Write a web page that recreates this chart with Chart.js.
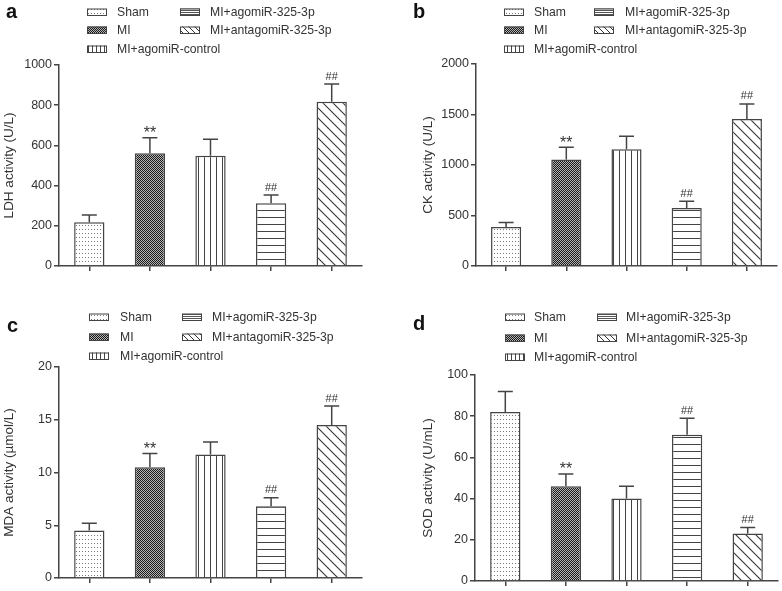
<!DOCTYPE html>
<html>
<head>
<meta charset="utf-8">
<script src="https://cdn.jsdelivr.net/npm/chart.js@4.4.1/dist/chart.umd.min.js"></script>
<style>
  html, body { margin: 0; padding: 0; background: #fff; }
  #wrap { position: relative; width: 782px; height: 591px; }
  .panel { position: absolute; }
</style>
</head>
<body>
<div id="wrap">
  <div class="panel" style="left:0;top:0;width:391px;height:290px"><canvas id="pa"></canvas></div>
  <div class="panel" style="left:391px;top:0;width:391px;height:290px"><canvas id="pb"></canvas></div>
  <div class="panel" style="left:0;top:290px;width:391px;height:301px"><canvas id="pc"></canvas></div>
  <div class="panel" style="left:391px;top:290px;width:391px;height:301px"><canvas id="pd"></canvas></div>
</div>
<script>
// groups, in plot order
const groups = ['Sham', 'MI', 'MI+agomiR-control', 'MI+agomiR-325-3p', 'MI+antagomiR-325-3p'];
const marks = ['', '**', '', '##', '##'];

// a: LDH (U/L)
const ldhMean = [218, 561, 549, 312, 817];
const ldhSd = [36, 77, 81, 41, 88];
const ldhTicks = [0, 200, 400, 600, 800, 1000];

// b: CK (U/L)
const ckMean = [385, 1055, 1155, 575, 1455];
const ckSd = [45, 120, 130, 65, 150];
const ckTicks = [0, 500, 1000, 1500, 2000];

// c: MDA (µmol/L)
const mdaMean = [4.5, 10.5, 11.7, 6.8, 14.5];
const mdaSd = [0.7, 1.3, 1.2, 0.8, 1.8];
const mdaTicks = [0, 5, 10, 15, 20];

// d: SOD (U/mL)
const sodMean = [82, 46, 40, 71, 23];
const sodSd = [10, 6, 6, 8, 3];
const sodTicks = [0, 20, 40, 60, 80, 100];

const INK = '#333';
const FONT = 'Arial, "Liberation Sans", Helvetica, sans-serif';
Chart.defaults.font.family = FONT;
Chart.defaults.color = INK;

// hatch fills, GraphPad style
function tile(w, h, paint) {
  const c = document.createElement('canvas');
  c.width = w; c.height = h;
  const x = c.getContext('2d');
  x.fillStyle = '#fff';
  x.fillRect(0, 0, w, h);
  paint(x);
  return x.createPattern(c, 'repeat');
}
const fills = [
  tile(3, 4, x => { x.fillStyle = '#777'; x.fillRect(1, 1, 1, 1); }),
  tile(2, 2, x => { x.fillStyle = '#1a1a1a'; x.fillRect(0, 0, 1, 1); x.fillRect(1, 1, 1, 1); x.fillStyle = '#b5b5b5'; x.fillRect(1, 0, 1, 1); x.fillRect(0, 1, 1, 1); }),
  tile(6, 1, x => { x.fillStyle = '#444'; x.fillRect(0, 0, 1, 1); }),
  tile(1, 7, x => { x.fillStyle = '#444'; x.fillRect(0, 0, 1, 1); }),
  tile(10, 10, x => {
    x.strokeStyle = '#333'; x.lineWidth = 1.1;
    x.beginPath(); x.moveTo(-1, -1); x.lineTo(11, 11); x.stroke();
    x.beginPath(); x.moveTo(-1, 9); x.lineTo(1, 11); x.stroke();
    x.beginPath(); x.moveTo(9, -1); x.lineTo(11, 1); x.stroke();
  }),
];
// smaller hatches for the legend swatches
const swatches = [
  fills[0],
  fills[1],
  tile(4, 1, x => { x.fillStyle = '#444'; x.fillRect(0, 0, 1, 1); }),
  tile(1, 2, x => { x.fillStyle = '#555'; x.fillRect(0, 0, 1, 1); }),
  tile(6, 6, x => {
    x.strokeStyle = '#333'; x.lineWidth = 1;
    x.beginPath(); x.moveTo(-1, -1); x.lineTo(7, 7); x.stroke();
  }),
];

// error bars (upper only) + significance marks
const errorBars = {
  id: 'errorBars',
  afterDatasetsDraw(chart, args, opts) {
    const { ctx } = chart;
    const y = chart.scales.y;
    const meta = chart.getDatasetMeta(0);
    const mean = chart.data.datasets[0].data;
    ctx.save();
    ctx.strokeStyle = '#444';
    ctx.lineWidth = 1.5;
    meta.data.forEach((bar, i) => {
      const top = y.getPixelForValue(mean[i] + opts.sd[i]);
      ctx.beginPath();
      ctx.moveTo(bar.x, bar.y);
      ctx.lineTo(bar.x, top);
      ctx.moveTo(bar.x - 7.5, top);
      ctx.lineTo(bar.x + 7.5, top);
      ctx.stroke();
      const m = opts.marks[i];
      if (m) {
        ctx.fillStyle = INK;
        ctx.textAlign = 'center';
        ctx.textBaseline = 'alphabetic';
        if (m === '**') {
          ctx.font = '16px ' + FONT;
          ctx.fillText(m, bar.x, top + 0.5);
        } else {
          ctx.font = '11px ' + FONT;
          ctx.fillText(m, bar.x, top - 4.5);
        }
      }
    });
    ctx.restore();
  },
};

// two-column legend + panel letter
const panelLegend = {
  id: 'panelLegend',
  afterDraw(chart, args, opts) {
    const { ctx } = chart;
    const slots = [[0, 0], [0, 1], [0, 2], [1, 0], [1, 1]];
    ctx.save();
    ctx.font = '12.2px ' + FONT;
    ctx.textBaseline = 'middle';
    ctx.textAlign = 'left';
    groups.forEach((g, i) => {
      const [col, row] = slots[i];
      const bx = opts.box[col], ty = opts.rows[row];
      ctx.fillStyle = swatches[i];
      ctx.fillRect(bx, ty - 3.5, 20, 7);
      ctx.strokeStyle = '#444';
      ctx.lineWidth = 1;
      ctx.strokeRect(bx + 0.5, ty - 3, 19, 6.5);
      ctx.fillStyle = INK;
      ctx.fillText(g, opts.text[col], ty + 0.5);
    });
    ctx.font = 'bold 20px ' + FONT;
    ctx.fillStyle = '#111';
    ctx.textBaseline = 'alphabetic';
    ctx.fillText(opts.letter, opts.lx, opts.ly);
    ctx.restore();
  },
};

function panel(id, mean, sd, ticks, title, lay, legend) {
  return new Chart(document.getElementById(id), {
    type: 'bar',
    data: {
      labels: groups,
      datasets: [{
        data: mean,
        backgroundColor: fills,
        borderColor: '#444',
        borderWidth: 1.5,
        categoryPercentage: 1,
        barPercentage: 0.5,
      }],
    },
    options: {
      responsive: true,
      maintainAspectRatio: false,
      animation: false,
      events: [],
      layout: { padding: { left: lay.left, top: lay.top, right: lay.right, bottom: 0 } },
      plugins: {
        legend: { display: false },
        tooltip: { enabled: false },
        errorBars: { sd, marks },
        panelLegend: legend,
      },
      scales: {
        x: {
          grid: { offset: false, drawOnChartArea: false, drawTicks: true, tickLength: 5, color: '#444', lineWidth: 1.5 },
          border: { display: true, color: '#444', width: 1.5 },
          ticks: { display: false },
          afterFit: s => { s.height = lay.xh; },
        },
        y: {
          min: ticks[0],
          max: ticks[ticks.length - 1],
          afterBuildTicks: s => { s.ticks = ticks.map(v => ({ value: v })); },
          grid: { drawOnChartArea: false, drawTicks: true, tickLength: 5, color: '#444', lineWidth: 1.5 },
          border: { display: true, color: '#444', width: 1.5 },
          ticks: { color: INK, padding: 2, font: { size: 12.5 }, callback: v => String(v) },
          title: { display: true, text: title, color: INK, font: { size: 13.5 }, padding: { top: 1, bottom: 0 } },
          afterFit: s => { s.width = lay.yw; },
        },
      },
    },
    plugins: [errorBars, panelLegend],
  });
}

panel('pa', ldhMean, ldhSd, ldhTicks, 'LDH activity (U/L)',
  { left: 0, top: 65, right: 29, xh: 24, yw: 59 },
  { box: [87, 180], text: [117, 210], rows: [12, 30, 49], letter: 'a', lx: 6, ly: 18 });

panel('pb', ckMean, ckSd, ckTicks, 'CK activity (U/L)',
  { left: 28, top: 64, right: 5, xh: 24, yw: 57 },
  { box: [113, 203], text: [143, 234], rows: [12, 30, 49], letter: 'b', lx: 22, ly: 18 });

panel('pc', mdaMean, mdaSd, mdaTicks, 'MDA activity (\u00b5mol/L)',
  { left: 0, top: 77, right: 29, xh: 13, yw: 59 },
  { box: [89, 182], text: [120, 212], rows: [27, 47, 66], letter: 'c', lx: 7, ly: 42 });

panel('pd', sodMean, sodSd, sodTicks, 'SOD activity (U/mL)',
  { left: 28, top: 85, right: 4, xh: 10, yw: 56 },
  { box: [114, 206], text: [143, 235], rows: [27, 48, 67], letter: 'd', lx: 22, ly: 40 });
</script>
</body>
</html>
